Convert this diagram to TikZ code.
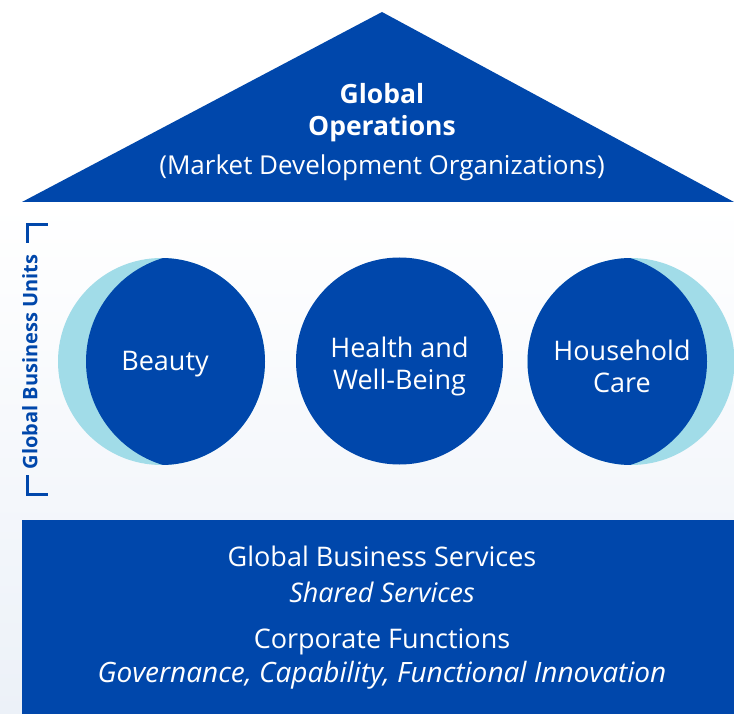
\documentclass[tikz,border=0pt]{standalone}
\usepackage{fontspec}
\setmainfont{Open Sans}
\usetikzlibrary{positioning}
\definecolor{gbblue}{RGB}{0,71,171}
\definecolor{gbcyan}{RGB}{161,220,232}
\definecolor{gbpale}{RGB}{236,241,248}
\tikzset{
  whitetext/.style={text=white, align=center, inner sep=0pt},
  unitfill/.style={fill=gbblue, draw=none},
  unittext/.style={whitetext, font=\fontsize{27}{32}\selectfont},
}
\begin{document}
\begin{tikzpicture}[x=1pt,y=-1pt]
  \useasboundingbox (0,0) rectangle (734,714);
  % background band
  \shade[top color=white, bottom color=gbpale] (0,202) rectangle (734,714);
  % roof
  \fill[gbblue] (22,202) -- (382,12) -- (734,202) -- cycle;
  \node[whitetext, font=\bfseries\fontsize{26.5}{32}\selectfont] (roof) at (382,113) {Global\\Operations};
  \node[whitetext, font=\fontsize{26}{30}\selectfont] (mdo) at (382,168) {(Market Development Organizations)};
  % foundation
  \fill[gbblue] (22,520) rectangle (734,714);
  \node[whitetext, font=\fontsize{27}{36}\selectfont] (gbs) at (382,574) {Global Business Services\\\itshape Shared Services};
  \node[whitetext, font=\fontsize{27}{34}\selectfont] (cf) at (382,659) {Corporate Functions\\\fontsize{28}{34}\selectfont\itshape Governance, Capability, Functional Innovation};
  % business units
  \fill[gbcyan] (161.5,361.5) circle (103.5pt);
  \begin{scope}
    \clip (194,361.5) circle (108pt);
    \fill[gbblue] (161.5,361.5) circle (103.5pt);
  \end{scope}
  \node[unittext] (beauty) at (165,364) {Beauty};
  \node[circle, unitfill, minimum size=207pt] (health) at (399.5,361) {};
  \node[unittext] (healthtxt) at (399.5,366) {Health and\\Well-Being};
  \fill[gbcyan] (631,361.5) circle (103.5pt);
  \begin{scope}
    \clip (599,361.5) circle (108pt);
    \fill[gbblue] (631,361.5) circle (103.5pt);
  \end{scope}
  \node[unittext] (household) at (622,366) {Household\\Care};
  % side label
  \node[rotate=90, text=gbblue, font=\bfseries\fontsize{20}{24}\selectfont] (gbu) at (30,362) {Global Business Units};
  \coordinate (bt) at (27,225);
  \coordinate (bb) at (27,494);
  \draw[gbblue, line width=3pt] (27,243) -- (bt) -- ++(21,0);
  \draw[gbblue, line width=3pt] (27,475) -- (bb) -- ++(21,0);
\end{tikzpicture}
\end{document}
